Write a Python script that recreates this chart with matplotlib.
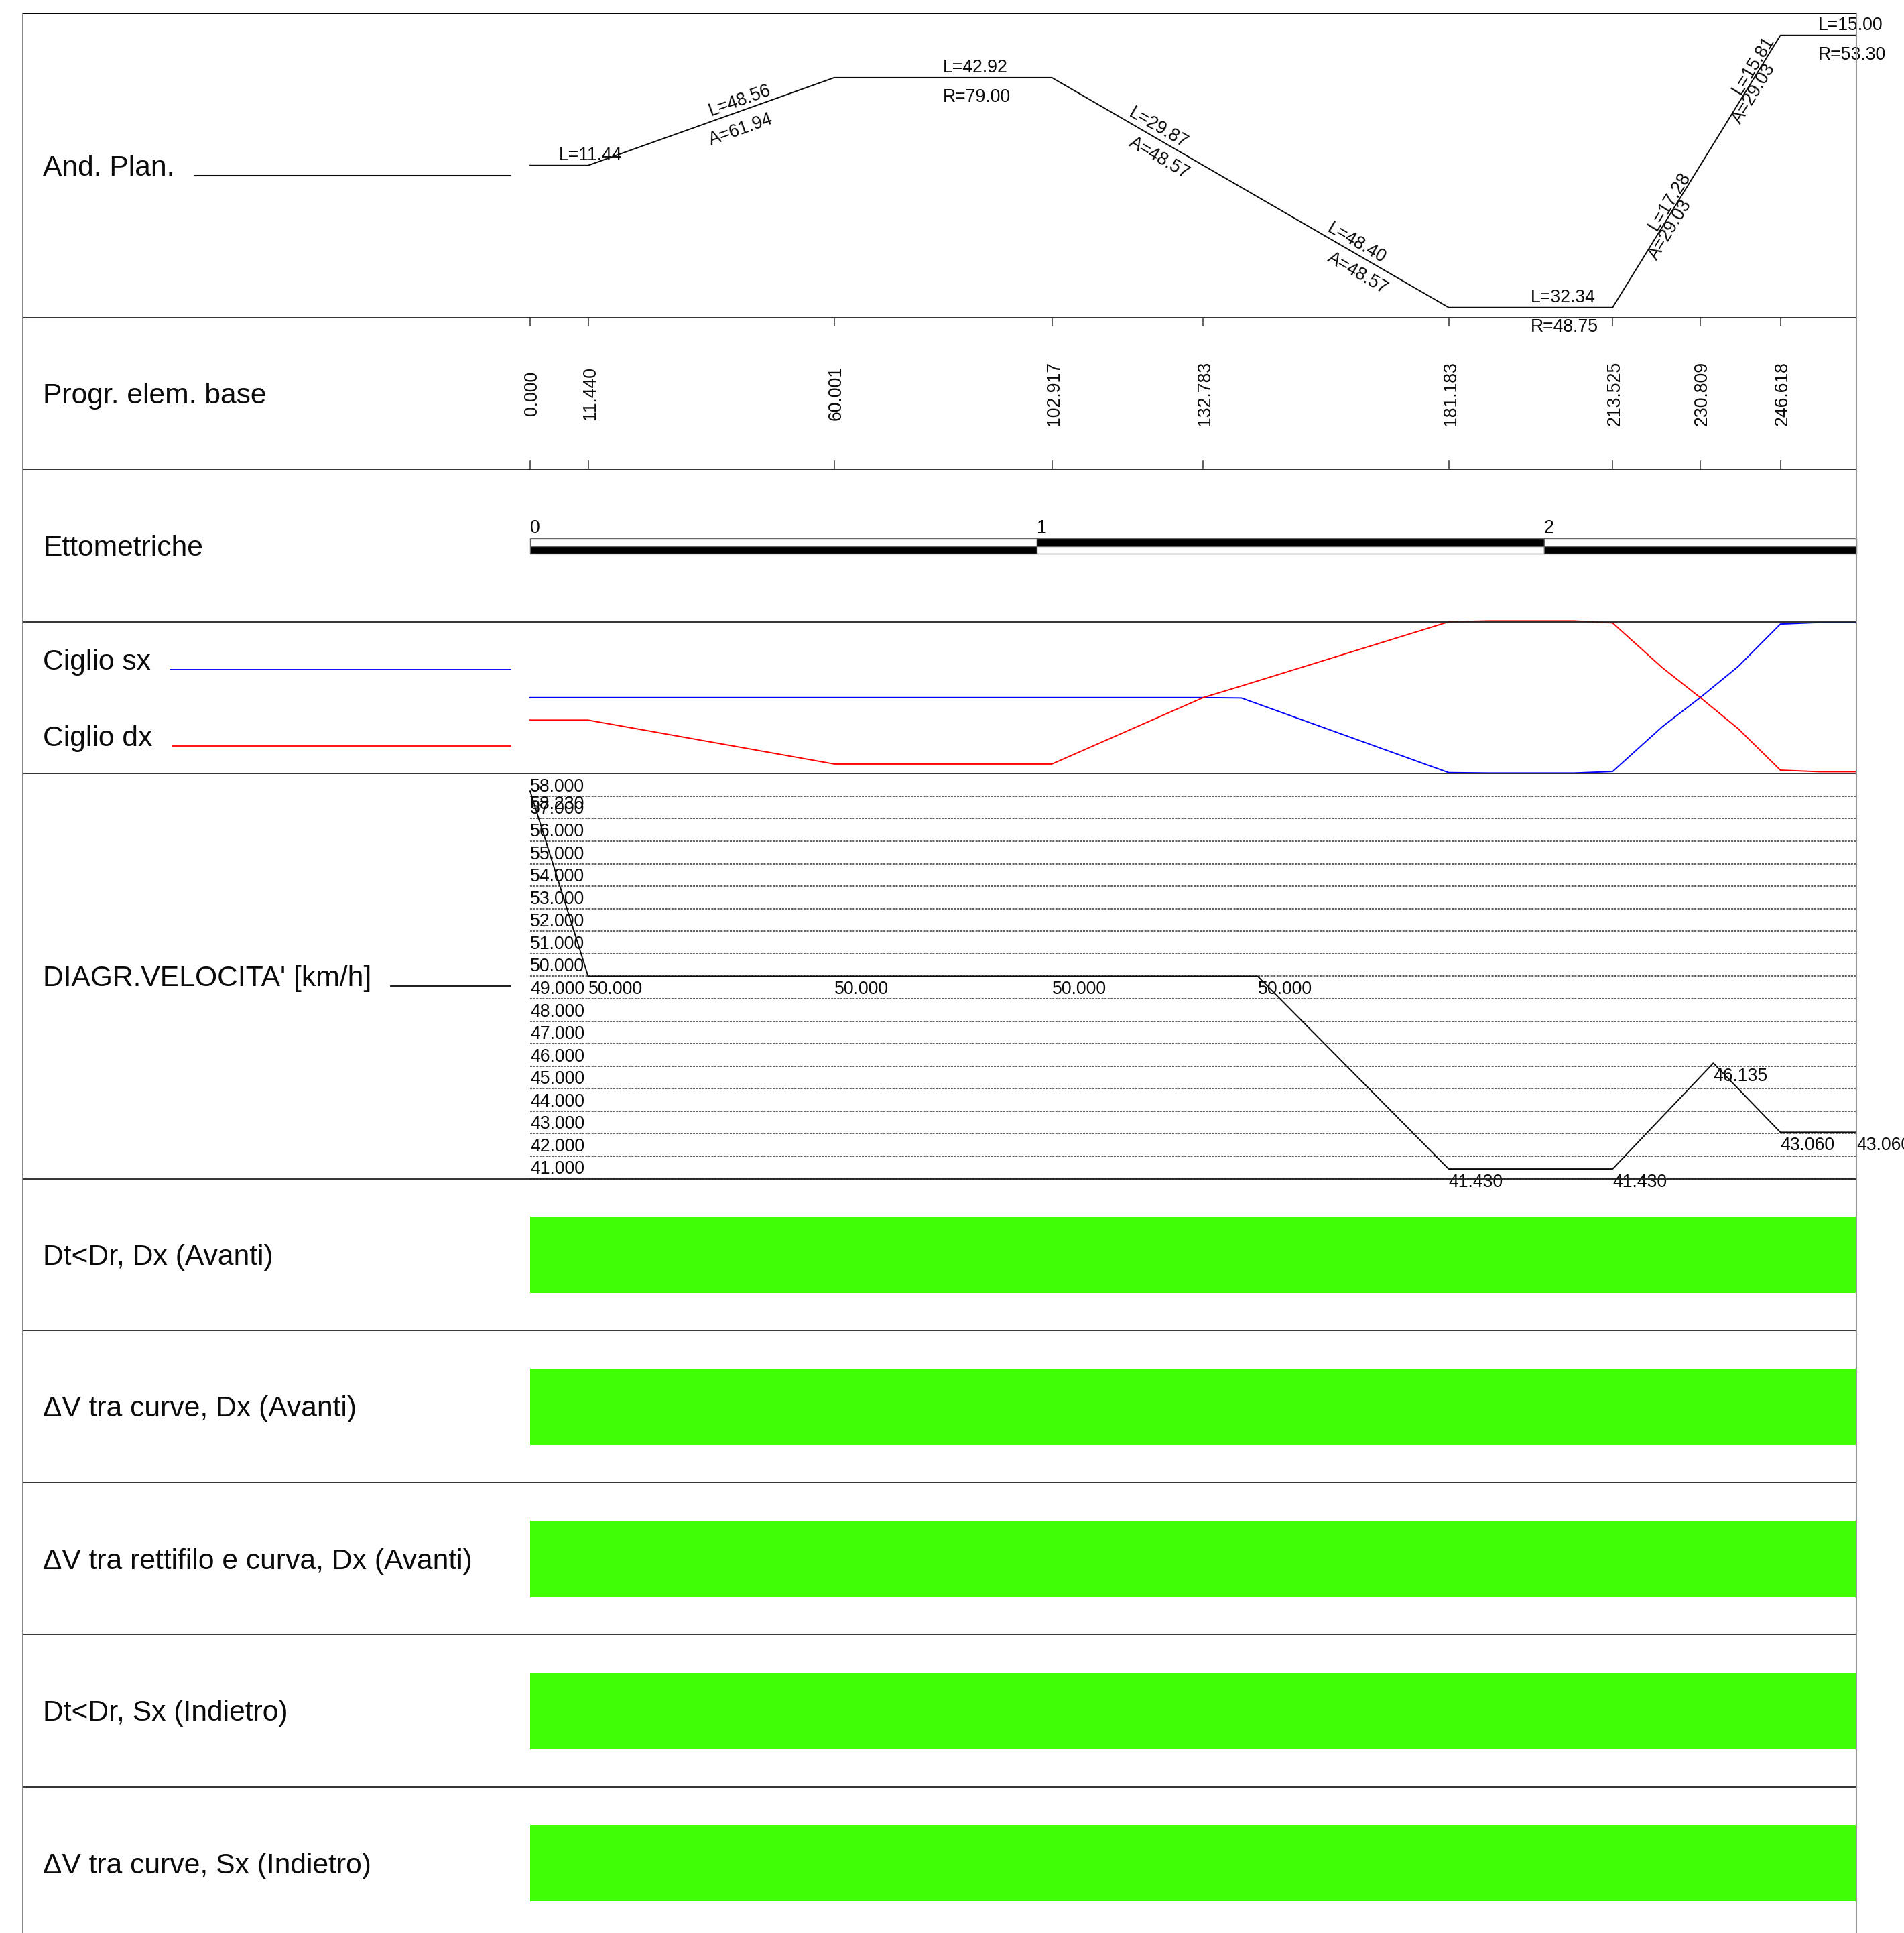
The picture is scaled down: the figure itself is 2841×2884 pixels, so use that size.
import numpy as np
import matplotlib
matplotlib.use('Agg')
import matplotlib.pyplot as plt
from matplotlib.lines import Line2D

plt.rcParams['font.family'] = ['Liberation Sans', 'DejaVu Sans']

# progressive of the base elements
prog = [0.000, 11.440, 60.001, 102.917, 132.783, 181.183, 213.525, 230.809, 246.618, 261.618]
prog_labels = ['0.000', '11.440', '60.001', '102.917', '132.783', '181.183', '213.525', '230.809', '246.618']

# curvature diagram
plan_y = [0, 0, 0.01266, 0.01266, 0, -0.0205, -0.0205, 0, 0.01876, 0.01876]
plan_up = ['L=11.44', 'L=48.56', 'L=42.92', 'L=29.87', 'L=48.40', 'L=32.34', 'L=17.28', 'L=15.81', 'L=15.00']
plan_down = ['', 'A=61.94', 'R=79.00', 'A=48.57', 'A=48.57', 'R=48.75', 'A=29.03', 'A=29.03', 'R=53.30']

# hectometric marks
etto_start = [0, 100, 200]
etto_end = [100, 200, 261.618]
etto_labels = ['0', '1', '2']

# superelevation
cig_x = [0, 11.44, 60.001, 102.917, 132.783, 140.3, 181.183, 189, 205.9, 213.525, 223.3, 230.809, 238.3, 246.618, 254.3, 261.618]
cig_sx = [0, 0, 0, 0, 0, -0.04, -7.0, -7.04, -7.04, -6.9, -2.73, 0, 2.9, 6.85, 7.0, 7.0]
cig_dx = [-2.1, -2.1, -6.2, -6.2, 0.0, 1.08, 7.06, 7.15, 7.15, 6.96, 2.8, 0, -2.9, -6.77, -6.92, -6.92]

# speed diagram
vel_x = [0, 11.44, 60.001, 102.917, 143.5, 181.183, 213.525, 233.4, 246.618, 261.618]
vel_y = [58.23, 50, 50, 50, 50, 41.43, 41.43, 46.135, 43.06, 43.06]
vel_grid = list(range(41, 59))

row_names = ['And. Plan.', 'Progr. elem. base', 'Ettometriche', None, "DIAGR.VELOCITA' [km/h]",
             'Dt<Dr, Dx (Avanti)', 'ΔV tra curve, Dx (Avanti)', 'ΔV tra rettifilo e curva, Dx (Avanti)',
             'Dt<Dr, Sx (Indietro)', 'ΔV tra curve, Sx (Indietro)']

W, H = 2841, 2884
X0, X1 = 791, 2770
LEFT = 34
edges = [20, 473.5, 700, 927.5, 1154, 1758.5, 1985, 2212, 2439, 2666, 2893]
FS = 19.2
FS_ROW = 30.7
GREEN = '#40ff05'
INK = '#0a0a0a'

fig = plt.figure(figsize=(W / 100, H / 100), dpi=100, facecolor='white')


def fline(x0, x1, y0, y1, color='#222222', lw=1.3):
    fig.add_artist(Line2D([x0 / W, x1 / W], [1 - y0 / H, 1 - y1 / H], color=color, lw=lw))


def panel(top, bottom, ylim=(0, 1)):
    ax = fig.add_axes([X0 / W, 1 - bottom / H, (X1 - X0) / W, (bottom - top) / H])
    ax.set_xlim(0, 261.618)
    ax.set_ylim(*ylim)
    ax.axis('off')
    return ax


def off_text(ax, s, x, y, dy, dx=0, **kw):
    # dx, dy are in pixels, dy positive upwards
    ax.annotate(s, (x, y), xytext=(dx * 0.72, dy * 0.72), textcoords='offset points', fontsize=FS,
                color=INK, annotation_clip=False, va='baseline', ha=kw.pop('ha', 'left'),
                rotation_mode='anchor', **kw)


# frame
for e in edges[:-1]:
    fline(LEFT, X1, e, e)
fline(LEFT, X1, 20, 20, color='black')
fline(LEFT, LEFT, 20, H, color='#888888', lw=1.4)
fline(X1, X1, 20, H, color='#999999', lw=1.5)

# left labels
for i, name in enumerate(row_names):
    if name is None:
        continue
    base = (edges[i] + edges[i + 1]) / 2 + 15
    fig.text(64 / W, 1 - base / H, name, fontsize=FS_ROW, color=INK, va='baseline', ha='left')
fig.text(64 / W, 1 - 999 / H, 'Ciglio sx', fontsize=FS_ROW, color=INK, va='baseline')
fig.text(64 / W, 1 - 1113 / H, 'Ciglio dx', fontsize=FS_ROW, color=INK, va='baseline')
fline(290, 762, 262, 262, color=INK, lw=1.5)
fline(254, 762, 999, 999, color='blue', lw=1.3)
fline(257, 762, 1113, 1113, color='red', lw=1.3)
fline(583, 762, 1471, 1471, color=INK, lw=1.3)

# planimetric diagram
ax = panel(edges[0], edges[1], (-0.02193, 0.02193))
ax.plot(prog, plan_y, color=INK, lw=1.4, clip_on=False)
fig.canvas.draw()
pts = ax.transData.transform(np.column_stack([prog, plan_y]))
for i in range(len(plan_up)):
    ang = np.degrees(np.arctan2(pts[i + 1, 1] - pts[i, 1], pts[i + 1, 0] - pts[i, 0]))
    xm = (prog[i] + prog[i + 1]) / 2
    ym = (plan_y[i] + plan_y[i + 1]) / 2
    off_text(ax, plan_up[i], xm, ym, 8, rotation=ang)
    if plan_down[i]:
        off_text(ax, plan_down[i], xm, ym, -36, rotation=ang)

# progressive ticks
ax = panel(edges[1], edges[2])
for p in prog[:-1]:
    ax.plot([p, p], [1, 1 - 12 / 226], color='#444444', lw=1.2, clip_on=False)
    ax.plot([p, p], [0, 12 / 226], color='#444444', lw=1.2, clip_on=False)
for p, lab in zip(prog, prog_labels):
    off_text(ax, lab, p, 0.5, 0, dx=10, rotation=90, ha='center')

# hectometric bar
ax = panel(803, 826)
for i in range(len(etto_start)):
    w = etto_end[i] - etto_start[i]
    top_col, low_col = ('white', 'black') if i % 2 == 0 else ('black', 'white')
    ax.bar(etto_start[i], 0.54, width=w, bottom=0.46, align='edge', color=top_col, edgecolor='#666666', lw=1.0, clip_on=False)
    ax.bar(etto_start[i], 0.46, width=w, bottom=0, align='edge', color=low_col, edgecolor='#666666', lw=1.0, clip_on=False)
    off_text(ax, etto_labels[i], etto_start[i], 1, 8)

# superelevation
ax = panel(edges[3], edges[4], (-7.08, 7.08))
ax.plot(cig_x, cig_sx, color='blue', lw=1.4, clip_on=False)
ax.plot(cig_x, cig_dx, color='red', lw=1.4, clip_on=False)

# speed diagram
ax = panel(edges[4], edges[5], (41, 59.01))
for v in vel_grid:
    ax.plot([0, 261.618], [v, v], color='#333333', lw=1.1, ls=(0, (2, 1)), clip_on=False)
    off_text(ax, '%.3f' % v, 0, v, 7)
ax.plot(vel_x, vel_y, color=INK, lw=1.4, clip_on=False)
for x, v in zip(vel_x, vel_y):
    off_text(ax, '%.3f' % v, x, v, -27)

# verification bands
for i in range(5, 10):
    ax = panel(edges[i] + 56.5, edges[i] + 170.5)
    ax.barh(0.5, 261.618, height=1, left=0, color=GREEN, lw=0)

fig.savefig('out.png', dpi=100, facecolor='white')
